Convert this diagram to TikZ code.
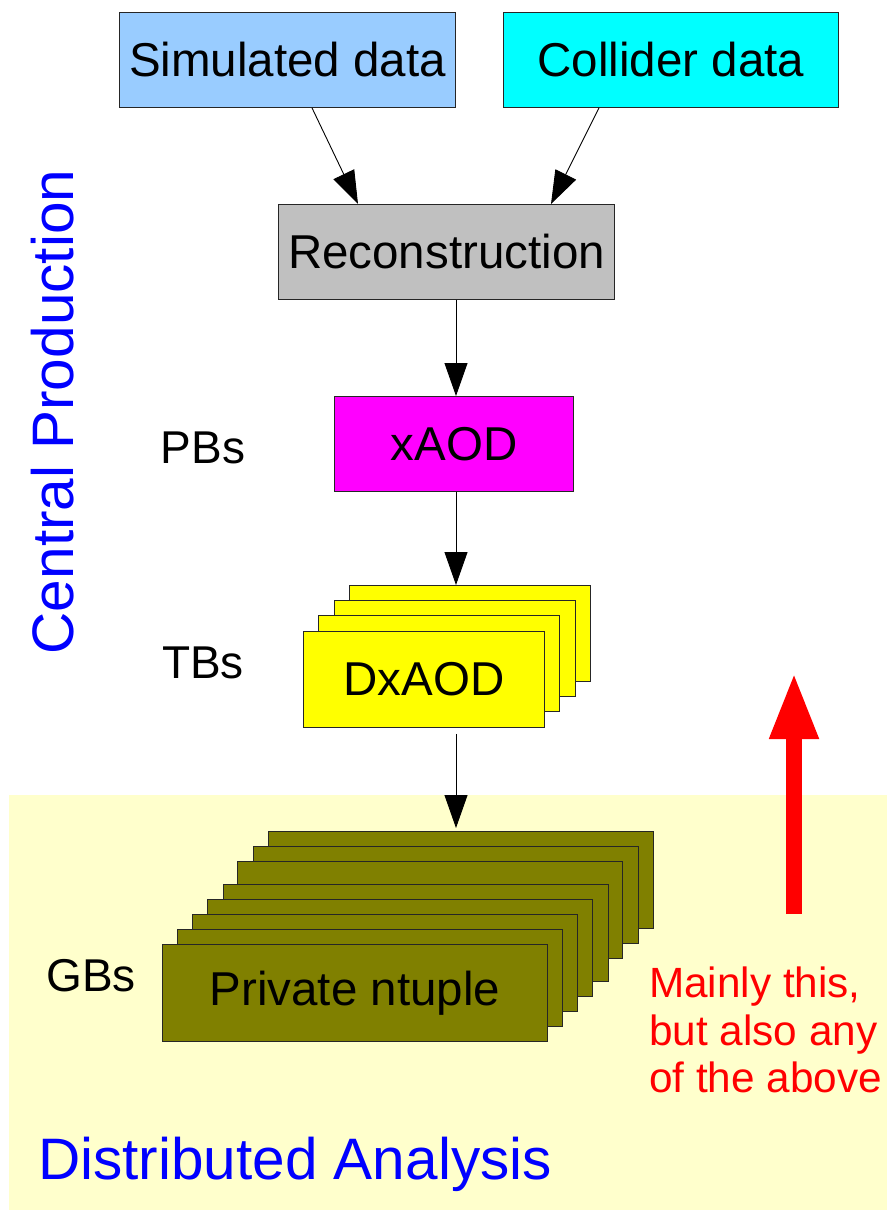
\documentclass[tikz,border=0pt]{standalone}
\usepackage{fontspec}
\setmainfont{Liberation Sans}
\usetikzlibrary{arrows.meta,calc}
\definecolor{simblue}{HTML}{99CCFF}
\definecolor{colcyan}{HTML}{00FFFF}
\definecolor{recgray}{HTML}{C0C0C0}
\definecolor{xmag}{HTML}{FF00FF}
\definecolor{dyellow}{HTML}{FFFF00}
\definecolor{nolive}{HTML}{808000}
\definecolor{bgyellow}{HTML}{FFFFCC}
\definecolor{txtblue}{HTML}{0000FF}
\definecolor{txtred}{HTML}{FF0000}
\tikzset{
  box/.style={draw=black!85, line width=0.9pt, rectangle, inner sep=0pt, anchor=north west,
    font=\fontsize{47.5}{57}\selectfont},
  bigbox/.style={box, minimum width=336pt, minimum height=95pt},
  dbox/.style={box, fill=dyellow, minimum width=241pt, minimum height=96pt},
  nbox/.style={box, fill=nolive, minimum width=385pt, minimum height=97pt},
  arr/.style={line width=0.9pt, -{Triangle[length=33pt,width=23pt]}},
  lbl/.style={inner sep=0pt, font=\fontsize{46}{55}\selectfont},
  bluelbl/.style={inner sep=0pt, text=txtblue, font=\fontsize{58.5}{70}\selectfont},
}
\begin{document}
\begin{tikzpicture}[x=1pt,y=-1pt]
\useasboundingbox (0,0) rectangle (887,1212);
% background for distributed analysis
\fill[bgyellow] (9,795) rectangle (887,1210);
% top boxes
\node[bigbox, fill=simblue] (sim) at (119,12) {Simulated data};
\node[bigbox, fill=colcyan, minimum width=335pt] (col) at (503,12) {Collider data};
\node[bigbox, fill=recgray] (recon) at (278,204) {Reconstruction};
\node[box, fill=xmag, minimum width=239pt, minimum height=95pt] (xaod) at (334,396) {xAOD};
% DxAOD stack
\node[dbox] (d4) at (349,585) {};
\node[dbox] (d3) at (334,600) {};
\node[dbox] (d2) at (318,615) {};
\node[dbox] (dxaod) at (303,631) {DxAOD};
% ntuple stack
\node[nbox] (n8) at (268,831) {};
\node[nbox] (n7) at (252.7,846.3) {};
\node[nbox] (n6) at (237.3,861.3) {};
\node[nbox] (n5) at (222.7,884) {};
\node[nbox] (n4) at (207.3,899) {};
\node[nbox] (n3) at (192.3,914.3) {};
\node[nbox] (n2) at (177.3,929.3) {};
\node[nbox] (ntuple) at (162,944.3) {Private ntuple};
% side labels
\node[lbl] (pbs) at (203,448) {PBs};
\node[lbl] (tbs) at (203,663) {TBs};
\node[lbl] (gbs) at (91,976) {GBs};
\node[bluelbl, rotate=90] (central) at (53,412) {Central Production};
\node[bluelbl, anchor=west] (distr) at (38,1164) {Distributed Analysis};
\node[inner sep=0pt, anchor=north west, align=left, text=txtred, font=\fontsize{42.3}{47.5}\selectfont] (note) at (649,967) {Mainly this,\\but also any\\of the above};
% connectors
\coordinate (ax) at (456,0);
\draw[arr] ($(sim.south west)+(193,0)$) -- ($(recon.north west)+(80,0)$);
\draw[arr] ($(col.south west)+(96,0)$) -- ($(recon.north west)+(273,0)$);
\draw[arr] (recon.south -| ax) -- (xaod.north -| ax);
\draw[arr] (xaod.south -| ax) -- (d4.north -| ax);
\draw[arr] ($(dxaod.south -| ax)+(0,6)$) -- ($(n8.north -| ax)+(0,-3)$);
% red arrow
\coordinate (redbot) at (794,914);
\coordinate (redtop) at (794,672);
\draw[txtred, line width=16pt, -{Triangle[length=67pt,width=45pt]}] (redbot) -- (redtop);
\end{tikzpicture}
\end{document}
